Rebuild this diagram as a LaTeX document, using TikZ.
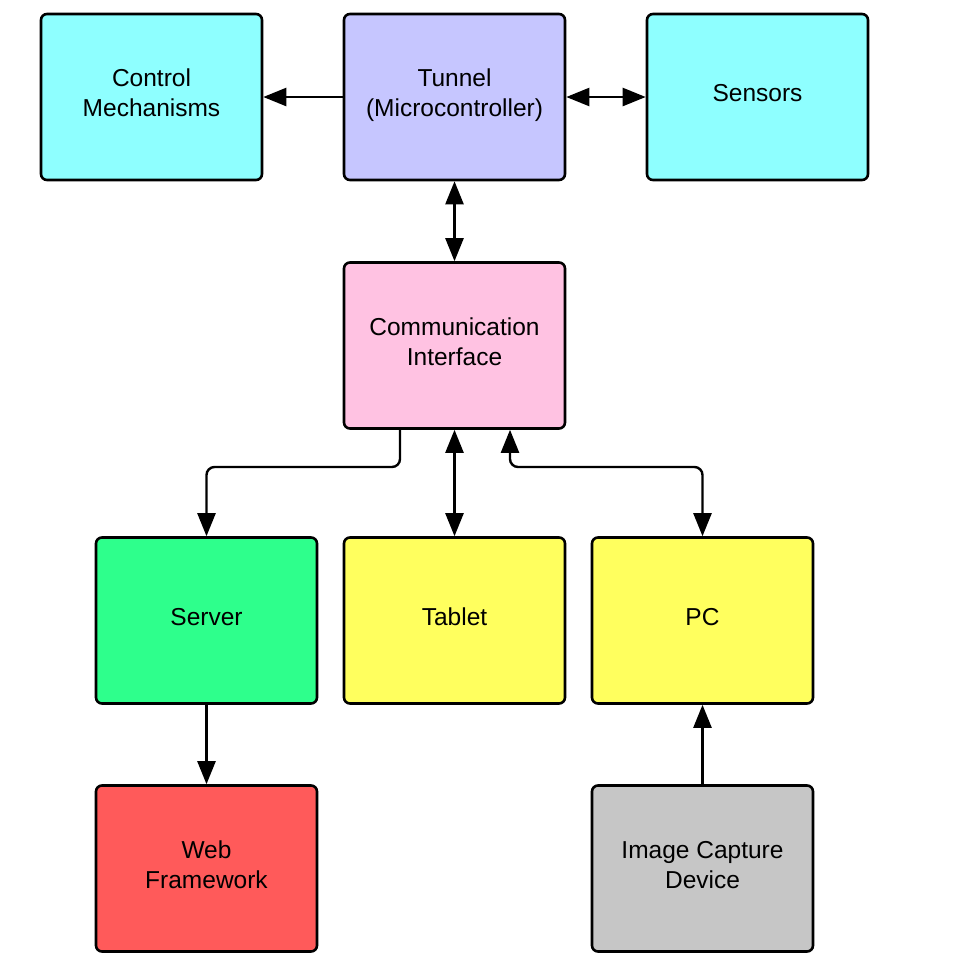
\documentclass[tikz,border=0pt]{standalone}
\usepackage{fontspec}
\setmainfont{Liberation Sans}
\usetikzlibrary{arrows.meta}
\definecolor{cyanbox}{HTML}{8EFFFF}
\definecolor{tunnelbox}{HTML}{C6C6FF}
\definecolor{pinkbox}{HTML}{FFC2E2}
\definecolor{greenbox}{HTML}{2EFF8C}
\definecolor{yellowbox}{HTML}{FFFF5E}
\definecolor{redbox}{HTML}{FF5A5A}
\definecolor{graybox}{HTML}{C6C6C6}
\begin{document}
\begin{tikzpicture}[x=1pt,y=-1pt,
  blk/.style={draw=black, line width=2.6pt, rounded corners=6pt, minimum width=221pt, minimum height=166pt,
    align=center, font=\fontsize{24.5}{30}\selectfont, inner sep=0pt, text depth=8pt},
  conn/.style={line width=2.4pt, rounded corners=8pt, >={Triangle[length=23pt,width=18pt]}}]
\useasboundingbox (0,0) rectangle (977,970);
\node[blk, fill=cyanbox] (ctrl) at (151.5,97) {Control\\Mechanisms};
\node[blk, fill=tunnelbox] (tun) at (454.5,97) {Tunnel\\(Microcontroller)};
\node[blk, fill=cyanbox] (sens) at (757.5,97) {Sensors};
\node[blk, fill=pinkbox] (comm) at (454.5,345.5) {Communication\\Interface};
\node[blk, fill=greenbox] (serv) at (206.5,620.5) {Server};
\node[blk, fill=yellowbox] (tab) at (454.5,620.5) {Tablet};
\node[blk, fill=yellowbox] (pc) at (702.5,620.5) {PC};
\node[blk, fill=redbox] (web) at (206.5,868.5) {Web\\Framework};
\node[blk, fill=graybox] (img) at (702.5,868.5) {Image Capture\\Device};
\draw[conn,->] (tun.west) -- (ctrl.east);
\draw[conn,<->] (tun.east) -- (sens.west);
\draw[conn,<->] (tun.south) -- (comm.north);
\draw[conn,<->] (comm.south) -- (tab.north);
\coordinate (c1) at (400,467);
\coordinate (c2) at (510,467);
\draw[conn,->] (comm.south -| c1) -- (c1) -- (c1 -| serv.north) -- (serv.north);
\draw[conn,<->] (comm.south -| c2) -- (c2) -- (c2 -| pc.north) -- (pc.north);
\draw[conn,->] (serv.south) -- (web.north);
\draw[conn,->] (img.north) -- (pc.south);
\end{tikzpicture}
\end{document}
